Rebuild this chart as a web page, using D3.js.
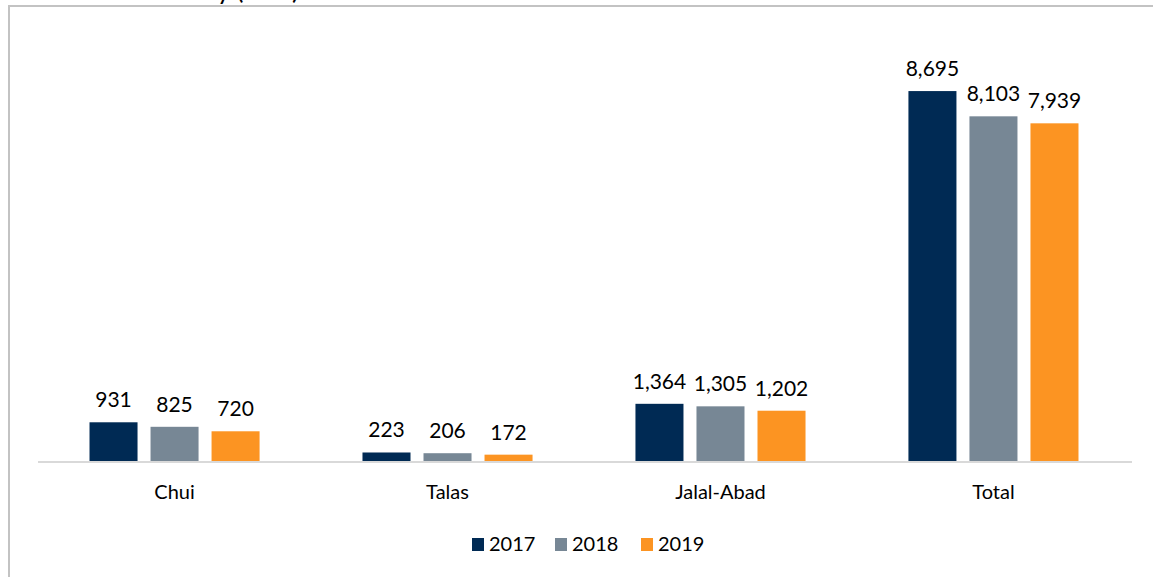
<!DOCTYPE html>
<html>
<head>
<meta charset="utf-8">
<script src="https://cdn.jsdelivr.net/npm/d3@7"></script>
<style>
  html, body { margin: 0; padding: 0; background: #fff; }
  svg { display: block; font-family: Lato, "Open Sans", sans-serif; }
</style>
</head>
<body>
<svg id="chart" width="1153" height="577"></svg>
<script>
// Regions and yearly series
const categories = ["Chui", "Talas", "Jalal-Abad", "Total"];
const years = ["2017", "2018", "2019"];
const values2017 = [931, 223, 1364, 8695];
const values2018 = [825, 206, 1305, 8103];
const values2019 = [720, 172, 1202, 7939];
const seriesColors = ["#002a54", "#778795", "#fc9422"];
const titleText = "Milk Collected Daily (tons)";

const series = [values2017, values2018, values2019];

const svg = d3.select("#chart");

// Outer frame of the chart area
svg.append("rect")
  .attr("x", 9).attr("y", 6)
  .attr("width", 1300).attr("height", 700)
  .attr("fill", "none")
  .attr("stroke", "#c3c3c3")
  .attr("stroke-width", 2);

// Title sits above the frame
svg.append("text")
  .attr("x", 299).attr("y", -1)
  .attr("text-anchor", "end")
  .attr("font-size", 26)
  .attr("fill", "#000")
  .text(titleText);

const baseY = 462;
const x0 = d3.scaleBand()
  .domain(categories)
  .range([38, 1130])
  .paddingInner(0.377)
  .paddingOuter(0.1887);

const x1 = d3.scaleBand()
  .domain(years)
  .range([0, x0.bandwidth()])
  .paddingInner(0.213)
  .paddingOuter(0);

const y = d3.scaleLinear()
  .domain([0, 10000])
  .range([baseY, baseY - 426.6]);

const fmt = d3.format(",");

const groups = svg.append("g").selectAll("g")
  .data(categories)
  .join("g")
  .attr("transform", d => `translate(${x0(d)},0)`);

groups.selectAll("rect")
  .data((c, i) => years.map((yr, k) => ({ yr, k, v: series[k][i] })))
  .join("rect")
  .attr("x", d => x1(d.yr))
  .attr("y", d => y(d.v))
  .attr("width", x1.bandwidth())
  .attr("height", d => y(0) - y(d.v))
  .attr("fill", d => seriesColors[d.k]);

groups.selectAll("text.val")
  .data((c, i) => years.map((yr, k) => ({ yr, k, v: series[k][i] })))
  .join("text")
  .attr("class", "val")
  .attr("x", d => x1(d.yr) + x1.bandwidth() / 2)
  .attr("y", d => y(d.v) - 15)
  .attr("text-anchor", "middle")
  .attr("font-size", 21)
  .attr("fill", "#000")
  .text(d => fmt(d.v));

// Category axis
const xAxis = svg.append("g")
  .attr("transform", `translate(0,${baseY})`)
  .call(d3.axisBottom(x0).tickSize(0).tickPadding(0));
xAxis.select(".domain")
  .attr("d", "M38,0H1132")
  .attr("stroke", "#d9d9d9")
  .attr("stroke-width", 2);
xAxis.selectAll(".tick text")
  .attr("dy", null)
  .attr("y", 37)
  .attr("font-size", 20)
  .attr("font-family", "Lato, 'Open Sans', sans-serif")
  .attr("fill", "#000");

// Legend
const legendX = [472, 555, 641];
const legend = svg.append("g").selectAll("g")
  .data(years)
  .join("g")
  .attr("transform", (d, i) => `translate(${legendX[i]},0)`);
legend.append("rect")
  .attr("x", 0).attr("y", 538)
  .attr("width", 12).attr("height", 13)
  .attr("fill", (d, i) => seriesColors[i]);
legend.append("text")
  .attr("x", 17).attr("y", 551)
  .attr("font-size", 20)
  .attr("fill", "#000")
  .text(d => d);
</script>
</body>
</html>
